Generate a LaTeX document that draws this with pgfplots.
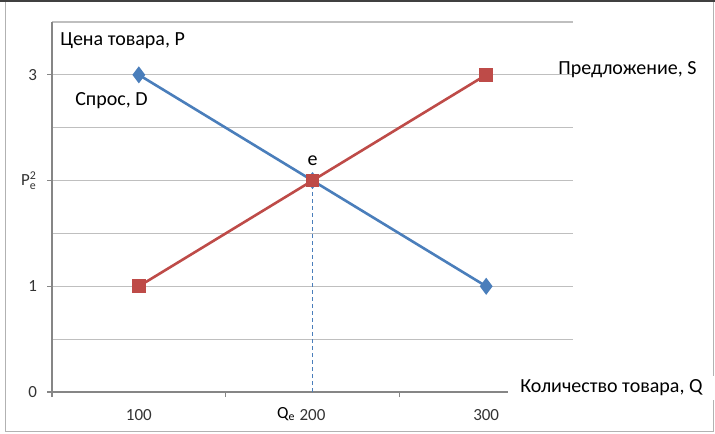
\documentclass[border=0pt]{standalone}
\usepackage{amsmath}
\usepackage{fontspec}
\setmainfont{Carlito}
\usepackage{pgfplots}
\pgfplotsset{compat=1.18}

\definecolor{dem}{HTML}{4A7EBB}
\definecolor{sup}{HTML}{BE4B48}
\definecolor{gridc}{HTML}{BFBFBF}
\definecolor{axc}{HTML}{868686}

\begin{document}
\begin{tikzpicture}
\useasboundingbox (0,0) rectangle (357.5pt,216.5pt);
% frame round the chart
\draw[gray!60, line width=0.5pt] (2.5pt,1pt) rectangle (356.5pt,215.5pt);
\draw[black!75, line width=1.2pt] (0,215.9pt) -- (357.5pt,215.9pt);
\begin{axis}[
    at={(26pt,20.5pt)}, anchor=south west,
    scale only axis, width=260.5pt, height=185pt,
    xmin=50, xmax=350, ymin=0, ymax=3.5,
    axis x line=bottom, axis y line=left,
    axis line style={axc, -, line width=0.6pt},
    tick style={axc, line width=0.6pt},
    tick align=outside, major tick length=2.5pt, minor tick length=0pt,
    xtick={50,150,250,350}, xticklabels={,,,},
    extra x ticks={100,200,300}, extra x tick labels={100,200,300},
    extra x tick style={major tick length=0pt, grid=none},
    ytick={0,1,2,3}, yticklabels={0,1,{P$^{\text{2}}_{\text{e}}$},3},
    minor ytick={0.5,1.5,2.5,3.5},
    ymajorgrids, yminorgrids,
    major grid style={gridc, line width=0.6pt},
    minor grid style={gridc, line width=0.6pt},
    ticklabel style={font=\fontsize{8.5}{10}\selectfont, black!80},
    xticklabel style={yshift=-5pt},
    yticklabel style={xshift=-1.5pt},
    clip=false,
    every node/.style={font=\fontsize{8.6}{10.5}\selectfont, text=black!85},
]
% equilibrium guide
\addplot[dem, line width=0.6pt, dash pattern=on 2pt off 1.5pt] coordinates {(200,0) (200,2)};
% demand
\addplot[dem, line width=1.3pt, mark=diamond*, mark size=3.2pt, mark options={fill=dem}]
    coordinates {(100,3) (200,2) (300,1)};
% supply
\addplot[sup, line width=1.3pt, mark=square*, mark size=2.8pt, mark options={fill=sup}]
    coordinates {(100,1) (200,2) (300,3)};

\node[anchor=west, inner sep=0pt] at (axis cs:54.6,3.32) {Цена товара, P};
\node[anchor=west, inner sep=0pt] at (axis cs:63.2,2.76) {Спрос, D};
\node[anchor=west, inner sep=0pt] at (axis cs:341.4,3.05) {Предложение, S};
\node[inner sep=0pt] at (axis cs:200,2.185) {e};
\node[anchor=west, fill=white, inner xsep=6pt, inner ysep=2pt] at (axis cs:312.5,0.04) {Количество товара, Q};
\node[anchor=east, inner sep=0pt, font=\fontsize{8.5}{10}\selectfont] at (axis cs:190.5,-0.21) {Q\textsubscript{e}};
\end{axis}
\end{tikzpicture}
\end{document}
